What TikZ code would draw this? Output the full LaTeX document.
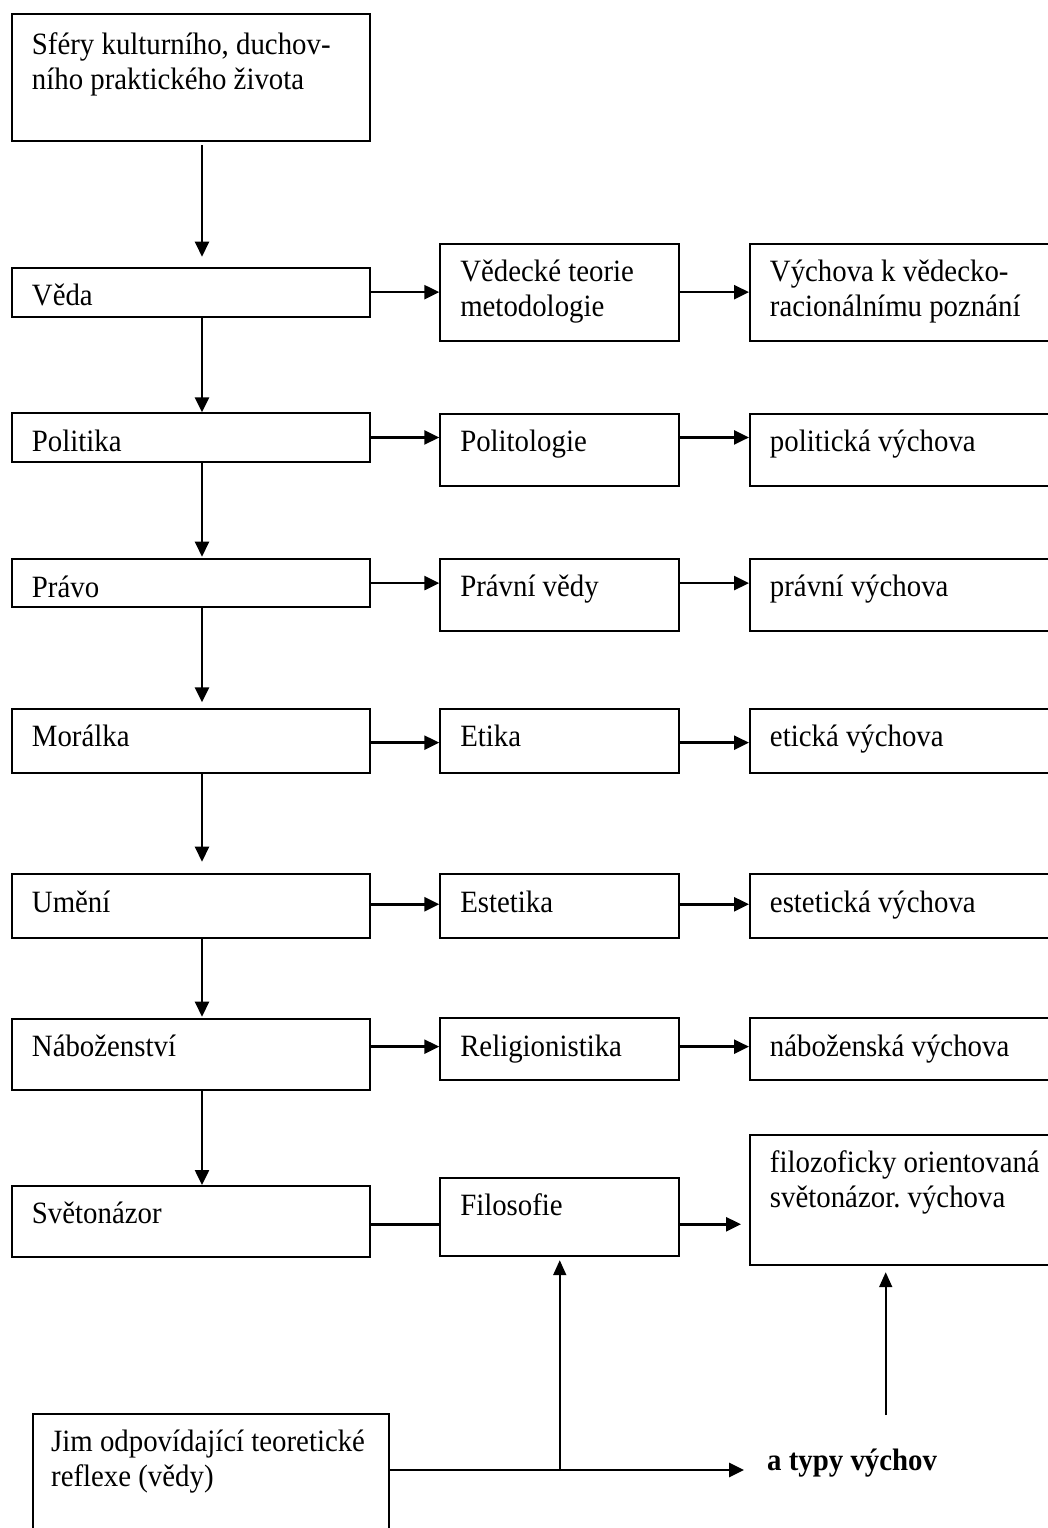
\documentclass[tikz,border=0pt]{standalone}
\usepackage{fontspec}
\setmainfont{Liberation Serif}[FakeStretch=0.93]
\usetikzlibrary{arrows.meta}
\newcommand{\txtfont}{\fontsize{31}{34.5}\selectfont\frenchspacing}
\tikzset{
  bx/.style={draw, line width=1.9pt, anchor=north west, inner xsep=20pt, inner ysep=0pt,
             align=flush left, text height=38pt, font=\txtfont},
  lbx/.style={bx, text width=318pt},
  mbx/.style={bx, text width=199pt},
  rbx/.style={bx, text width=290pt},
  arr/.style={line width=2.5pt, -{Triangle[length=15pt,width=14pt]}},
  tarr/.style={line width=1.8pt, -{Triangle[length=15pt,width=13pt]}},
  ln/.style={line width=2.5pt},
}
\begin{document}
\begin{tikzpicture}[x=1pt,y=-1pt]
\useasboundingbox (0,0) rectangle (1048,1528);
\clip (0,0) rectangle (1048,1528);
\fill[white] (0,0) rectangle (1048,1528);

% left column
\node[lbx, text height=41pt, text depth=86pt] (S) at (11,13) {Sféry kulturního, duchov-\\ního praktického života};
\node[lbx, text depth=11pt] (veda) at (11,266.7) {Věda};
\node[lbx, text depth=10.4pt] (poli) at (11,412.3) {Politika};
\node[lbx, text depth=9.7pt] (pravo) at (11,558.3) {Právo};
\node[lbx, text depth=26pt] (moral) at (11,707.7) {Morálka};
\node[lbx, text depth=25.4pt] (umeni) at (11,873.3) {Umění};
\node[lbx, text depth=33.6pt] (nab) at (11,1017.7) {Náboženství};
\node[lbx, text depth=33pt] (svet) at (11,1185) {Světonázor};

% middle column
\node[mbx, text depth=59.3pt] (vedaM) at (439.3,242.7) {Vědecké teorie\\metodologie};
\node[mbx, text depth=34.3pt] (poliM) at (439.3,412.7) {Politologie};
\node[mbx, text depth=34pt] (pravoM) at (439.3,558) {Právní vědy};
\node[mbx, text depth=26pt] (moralM) at (439.3,707.7) {Etika};
\node[mbx, text depth=26pt] (umeniM) at (439.3,873.3) {Estetika};
\node[mbx, text depth=24pt] (nabM) at (439.3,1017.3) {Religionistika};
\node[mbx, text depth=40pt] (fil) at (439.3,1177) {Filosofie};

% right column
\node[rbx, text depth=59pt] (vedaR) at (749,242.7) {Výchova k vědecko-\\racionálnímu poznání};
\node[rbx, text depth=34.3pt] (poliR) at (749,412.7) {politická výchova};
\node[rbx, text depth=34pt] (pravoR) at (749,558) {právní výchova};
\node[rbx, text depth=26pt] (moralR) at (749,707.7) {etická výchova};
\node[rbx, text depth=26pt] (umeniR) at (749,873.3) {estetická výchova};
\node[rbx, text depth=24pt] (nabR) at (749,1017.3) {náboženská výchova};
\node[rbx, text depth=92.3pt] (filR) at (749,1134) {\mbox{filozoficky orientovaná}\\světonázor. výchova};

% bottom
\node[bx, inner xsep=18.5pt, text width=319.6pt, text depth=92pt] (jim) at (31.7,1412.7) {\mbox{Jim odpovídající teoretické}\\\mbox{reflexe (vědy)}};
\node[anchor=base west, inner sep=0pt, font=\txtfont\bfseries] (typy) at (767,1470) {a typy výchov};

% vertical arrows of the left column
\coordinate (ax) at (202,0);
\draw[arr, shorten <=3.5pt, shorten >=10pt] (S.south -| ax) -- (veda.north -| ax);
\draw[arr] (veda.south -| ax) -- (poli.north -| ax);
\draw[arr, shorten >=1.6pt] (poli.south -| ax) -- (pravo.north -| ax);
\draw[arr, shorten >=5.4pt] (pravo.south -| ax) -- (moral.north -| ax);
\draw[arr, shorten >=11.6pt] (moral.south -| ax) -- (umeni.north -| ax);
\draw[arr, shorten >=1pt] (umeni.south -| ax) -- (nab.north -| ax);
\draw[arr] (nab.south -| ax) -- (svet.north -| ax);

% row arrows
\coordinate (vedaY) at (veda.east);
\coordinate (poliY) at (poli.east);
\coordinate (pravoY) at (pravo.east);
\coordinate (moralY) at ([yshift=-2pt]moral.east);
\coordinate (umeniY) at ([yshift=1.7pt]umeni.east);
\coordinate (nabY) at ([yshift=7.8pt]nab.east);
\coordinate (svetY) at ([yshift=-2.8pt]svet.east);

\foreach \r in {veda,poli,pravo,moral,umeni,nab}{
  \draw[arr] (\r Y) -- (\r Y -| \r M.west);
  \draw[arr] (\r Y -| \r M.east) -- (\r Y -| \r R.west);
}
\draw[ln] (svetY) -- (svetY -| fil.west);
\draw[arr, shorten >=8pt] (svetY -| fil.east) -- (svetY -| filR.west);

% bottom connectors
\draw[arr, line width=2.7pt, shorten >=23pt] (jim.east |- typy.base west) -- (typy.base west);
\draw[tarr, shorten >=3.3pt] (fil.south |- typy.base west) -- (fil.south);
\coordinate (up2) at (885.7,1415);
\draw[tarr, shorten >=6pt] (up2) -- (up2 |- filR.south);
\end{tikzpicture}
\end{document}
